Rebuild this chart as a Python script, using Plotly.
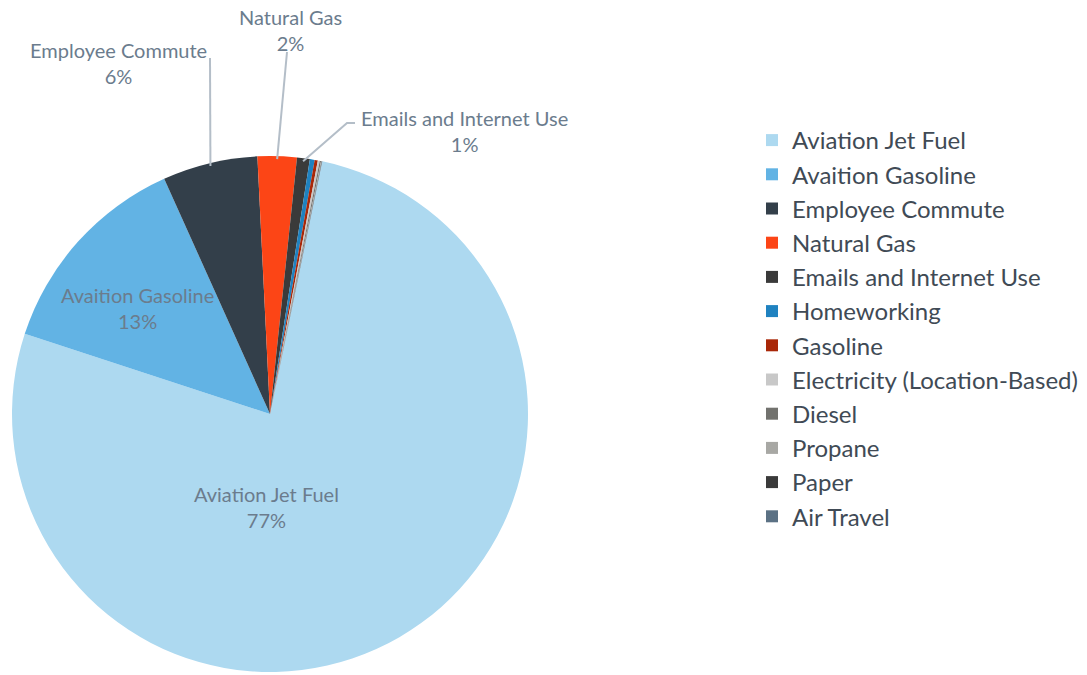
import math
import plotly.graph_objects as go

W, H = 1087, 675

categories = ["Aviation Jet Fuel", "Avaition Gasoline", "Employee Commute", "Natural Gas",
              "Emails and Internet Use", "Homeworking", "Gasoline", "Electricity (Location-Based)",
              "Diesel", "Propane", "Paper", "Air Travel"]
values = [76.8, 13.25, 5.95, 2.45, 0.8, 0.3, 0.2, 0.12, 0.08, 0.04, 0.02, 0.02]
colors = ["#ADD9F0", "#62B3E4", "#333F4A", "#FC4516", "#3A3A3A", "#1F82C0", "#A92708",
          "#C8C8C8", "#72726E", "#A8A8A4", "#3A3A3A", "#5B7184"]
pct_labels = ["77%", "13%", "6%", "2%", "1%", "", "", "", "", "", "", ""]

ROTATION = 11.7  # degrees clockwise from 12 o'clock where the first slice starts

# pie geometry (pixels)
CX, CY, R = 270, 414, 258
dom_x = [(CX - R) / W, (CX + R) / W]
dom_y = [1 - (CY + R) / H, 1 - (CY - R) / H]

fig = go.Figure(go.Pie(
    labels=categories, values=values, sort=False, direction="clockwise",
    rotation=ROTATION, marker=dict(colors=colors, line=dict(width=0)),
    textinfo="none", hoverinfo="label+percent",
    domain=dict(x=dom_x, y=dom_y),
))

total = sum(values)
mids = []
acc = 0.0
for v in values:
    mids.append(ROTATION + (acc + v / 2) / total * 360)
    acc += v

def px2paper(x, y):
    return x / W, 1 - y / H

def edge(i, rr=R):
    a = math.radians(mids[i])
    return CX + rr * math.sin(a), CY - rr * math.cos(a)

LABEL_COLOR = "#6B7C8D"
FONT = "Lato"
LABEL_SIZE = 20

annotations = []
shapes = []

# inside labels
inside = {0: (266, 507), 1: (137, 308)}
for i, (x, y) in inside.items():
    px, py = px2paper(x, y)
    annotations.append(dict(x=px, y=py, xref="paper", yref="paper", showarrow=False,
                            xanchor="center", yanchor="middle",
                            text=f"{categories[i]}<br>{pct_labels[i]}",
                            font=dict(family=FONT, size=LABEL_SIZE, color=LABEL_COLOR)))

# outside labels with leader lines
outside = {
    2: dict(text=(118, 63), path=[(210, 58)]),
    3: dict(text=(290, 30), path=[(287, 52)]),
    4: dict(text=(464, 131), path=[(355, 123), (347, 123)]),
}
for i, spec in outside.items():
    tx, ty = spec["text"]
    px, py = px2paper(tx, ty)
    annotations.append(dict(x=px, y=py, xref="paper", yref="paper", showarrow=False,
                            xanchor="center", yanchor="middle",
                            text=f"{categories[i]}<br>{pct_labels[i]}",
                            font=dict(family=FONT, size=LABEL_SIZE, color=LABEL_COLOR)))
    pts = spec["path"] + [edge(i, R - 3)]
    d = "M " + " L ".join(f"{x / W:.5f},{1 - y / H:.5f}" for x, y in pts)
    shapes.append(dict(type="path", path=d, xref="paper", yref="paper",
                       line=dict(color="#B4BEC8", width=2)))

fig.update_layout(
    width=W, height=H,
    margin=dict(l=0, r=0, t=0, b=0),
    paper_bgcolor="white", plot_bgcolor="white",
    showlegend=True,
    legend=dict(x=752 / W, y=1 - 118 / H, xanchor="left", yanchor="top",
                font=dict(family=FONT, size=24, color="#404A55"),
                itemsizing="constant", traceorder="normal"),
    annotations=annotations, shapes=shapes,
    font=dict(family=FONT),
)

fig.write_html("out.html")
